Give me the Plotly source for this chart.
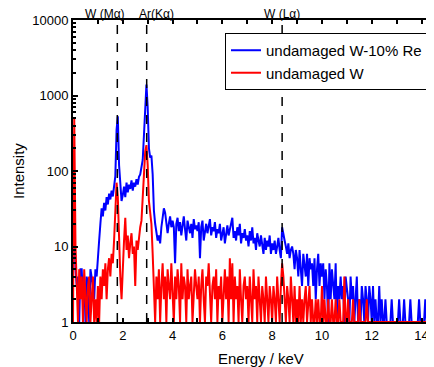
import plotly.graph_objects as go

step_keV = 0.05
n_ch = 290
energy = [round(i * step_keV, 2) for i in range(n_ch)]

w_re = [
    # 0.00-0.95
    25, 20, 5, 3, 4, 1, 5, 5, 2, 4, 1, 4, 3, 1, 5, 4, 3, 2, 5, 4,
    # 1.00-1.95
    8, 12, 20, 32, 25, 38, 30, 45, 36, 50, 42, 55, 46, 60, 85, 350, 530, 120, 55, 40,
    # 2.00-2.95
    48, 62, 45, 70, 52, 66, 58, 75, 55, 70, 62, 78, 66, 84, 90, 110, 140, 300, 900, 1400,
    # 3.00-3.95
    700, 200, 150, 160, 90, 30, 20, 15, 12, 14, 11, 18, 25, 32, 28, 22, 15, 20, 25, 18,
    # 4.00-4.95
    22, 18, 6, 20, 24, 16, 21, 14, 19, 25, 17, 12, 22, 18, 15, 20, 13, 23, 17, 19,
    # 5.00-5.95
    16, 21, 7, 18, 22, 12, 17, 20, 15, 19, 23, 14, 18, 16, 21, 13, 17, 15, 20, 12,
    # 6.00-6.95
    15, 18, 11, 16, 19, 14, 17, 22, 24, 13, 16, 12, 18, 14, 20, 11, 15, 13, 17, 12,
    # 7.00-7.95
    14, 10, 16, 12, 18, 11, 13, 9, 15, 12, 10, 14, 11, 8, 13, 9, 12, 10, 14, 8,
    # 8.00-8.95
    11, 9, 12, 8, 10, 13, 9, 7, 18, 14, 12, 10, 8, 11, 7, 9, 10, 8, 5, 9,
    # 9.00-9.95
    7, 4, 9, 5, 3, 8, 6, 4, 8, 3, 7, 5, 6, 3, 7, 2, 5, 8, 3, 6,
    # 10.00-10.95
    4, 6, 2, 5, 3, 1, 6, 2, 5, 3, 2, 6, 1, 3, 2, 4, 2, 3, 1, 4,
    # 11.00-11.95
    3, 2, 1, 4, 2, 3, 1, 2, 4, 1, 2, 1, 3, 2, 1, 3, 2, 1, 3, 2,
    # 12.00-12.95
    1, 3, 1, 2, 1, 1, 3, 1, 2, 1, 1, 2, 1, 1, 1, 1, 2, 1, 1, 1,
    # 13.00-13.95
    1, 1, 2, 1, 1, 1, 2, 1, 1, 1, 1, 2, 1, 1, 1, 1, 1, 1, 2, 1,
    # 14.00-14.45
    1, 1, 1, 2, 1, 1, 1, 1, 1, 1,
]

w_pure = [
    # 0.00-0.95
    1, 500, 10, 3, 1, 5, 2, 4, 1, 5, 2, 1, 3, 4, 1, 2, 4, 1, 2, 1,
    # 1.00-1.95
    3, 1, 4, 2, 5, 3, 6, 2, 5, 7, 4, 8, 6, 12, 30, 70, 45, 10, 4, 2,
    # 2.00-2.95
    6, 12, 24, 9, 14, 7, 11, 15, 8, 10, 3, 12, 9, 14, 18, 22, 40, 80, 180, 220,
    # 3.00-3.95
    120, 40, 25, 20, 8, 3, 1, 4, 2, 5, 1, 3, 6, 2, 4, 1, 5, 3, 2, 6,
    # 4.00-4.95
    3, 1, 4, 2, 5, 3, 1, 6, 2, 4, 3, 1, 5, 2, 3, 4, 1, 2, 5, 3,
    # 5.00-5.95
    2, 4, 1, 3, 5, 2, 1, 4, 3, 6, 2, 1, 3, 4, 2, 5, 1, 3, 2, 4,
    # 6.00-6.95
    1, 3, 5, 2, 4, 1, 7, 2, 6, 1, 4, 2, 3, 1, 5, 2, 1, 3, 4, 2,
    # 7.00-7.95
    3, 1, 4, 2, 1, 5, 2, 3, 1, 4, 2, 1, 3, 2, 1, 4, 2, 1, 3, 2,
    # 8.00-8.95
    1, 3, 2, 1, 4, 2, 1, 3, 6, 4, 2, 1, 3, 2, 1, 4, 2, 1, 3, 1,
    # 9.00-9.95
    2, 1, 3, 1, 2, 1, 2, 3, 1, 2, 3, 1, 2, 1, 1, 2, 1, 2, 1, 1,
    # 10.00-10.95
    3, 1, 2, 1, 1, 2, 1, 1, 2, 1, 1, 2, 1, 1, 2, 1, 1, 1, 4, 1,
    # 11.00-11.95
    1, 2, 1, 1, 1, 2, 1, 1, 1, 1, 2, 1, 1, 1, 1, 1, 2, 1, 1, 1,
    # 12.00-12.95
    1, 1, 1, 1, 1, 1, 1, 1, 1, 1, 1, 1, 1, 1, 1, 1, 1, 1, 1, 1,
    # 13.00-13.95
    1, 1, 1, 1, 1, 1, 1, 1, 1, 1, 1, 1, 1, 1, 1, 1, 1, 1, 1, 1,
    # 14.00-14.45
    1, 1, 1, 1, 1, 1, 1, 1, 2, 1,
]

line_names = ["W (Mα)", "Ar(Kα)", "W (Lα)"]
line_keV = [1.78, 2.96, 8.40]
label_shift_px = [-12, 10, 0]

y_tickvals = [1, 10, 100, 1000, 10000]
y_ticktext = ["1", "10", "100", "1000", "10000"]

font = "Liberation Sans, Arial, sans-serif"

fig = go.Figure()
fig.add_trace(go.Scatter(x=energy, y=w_re, mode="lines", name="undamaged W-10% Re",
                         line=dict(color="rgb(0,0,255)", width=2)))
fig.add_trace(go.Scatter(x=energy, y=w_pure, mode="lines", name="undamaged W",
                         line=dict(color="rgb(255,0,0)", width=2)))

for name, e, sh in zip(line_names, line_keV, label_shift_px):
    fig.add_shape(type="line", xref="x", yref="paper", x0=e, x1=e, y0=0, y1=1,
                  line=dict(color="black", width=1.5, dash="dash"))
    fig.add_annotation(x=e, xref="x", y=1, yref="paper", yanchor="bottom", text=name,
                       showarrow=False, font=dict(size=12, color="black", family=font),
                       xshift=sh, yshift=-3)

fig.add_annotation(text="Energy / keV", xref="paper", yref="paper", x=0.52, y=0,
                   yanchor="top", yshift=-26, showarrow=False, font=dict(size=15))
fig.add_annotation(text="Intensity", xref="paper", yref="paper", x=0, y=0.5,
                   xanchor="center", xshift=-55, textangle=-90, showarrow=False,
                   font=dict(size=15))

minor_y = [m * 10 ** d for d in range(4) for m in range(2, 10)]

fig.update_layout(
    width=426, height=359,
    margin=dict(l=65, r=0, t=12, b=45, autoexpand=False),
    paper_bgcolor="white", plot_bgcolor="white",
    font=dict(family=font, color="black", size=13),
    showlegend=True,
    legend=dict(x=0.421, y=0.957, xanchor="left", yanchor="top",
                bordercolor="black", borderwidth=1, bgcolor="white",
                font=dict(size=15), tracegroupgap=0, itemwidth=30),
    xaxis=dict(range=[0, 14.5], showline=True, linecolor="black", linewidth=2,
               mirror="ticks", ticks="inside", ticklen=4, tickwidth=1.5,
               tickcolor="black", dtick=2, tick0=0, showgrid=False, zeroline=False,
               tickfont=dict(size=13), automargin=False,
               minor=dict(ticks="inside", ticklen=4, dtick=1, tickcolor="black",
                          showgrid=False)),
    yaxis=dict(type="log", range=[0, 4], showline=True, linecolor="black", linewidth=2,
               mirror="ticks", ticks="inside", ticklen=5, tickwidth=1.5,
               tickcolor="black", tickmode="array", tickvals=y_tickvals,
               ticktext=y_ticktext, showgrid=False, zeroline=False,
               tickfont=dict(size=13), automargin=False,
               minor=dict(ticks="inside", ticklen=3, tickmode="array",
                          tickvals=minor_y, tickcolor="black", showgrid=False)),
)

fig.write_html("out.html")
